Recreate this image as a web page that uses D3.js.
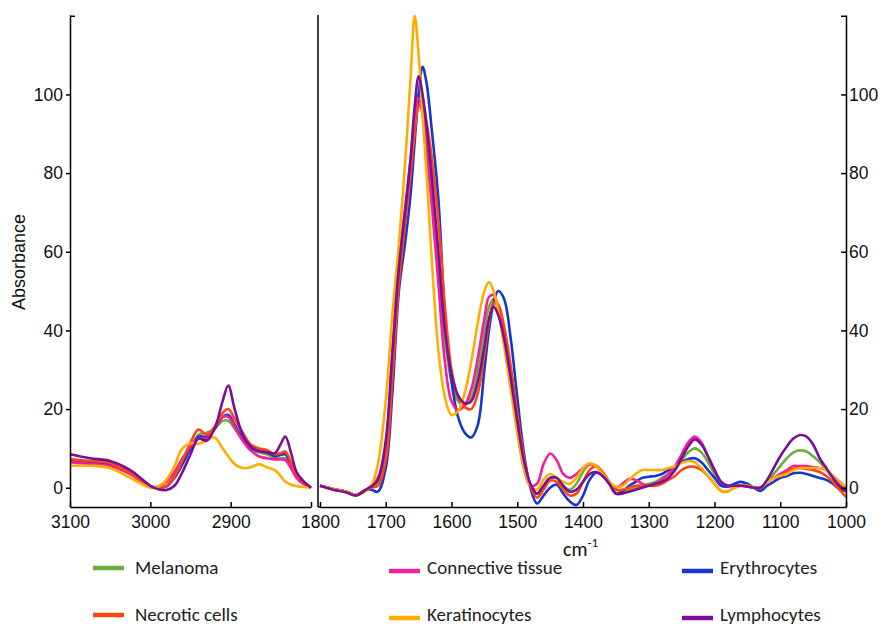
<!DOCTYPE html>
<html>
<head>
<meta charset="utf-8">
<script src="https://cdn.jsdelivr.net/npm/d3@7"></script>
<style>
  body { margin: 0; background: #fff; }
  svg { display: block; }
</style>
</head>
<body>
<div class="chart"></div>
<script>
// wavenumbers (cm-1) of the two panels
var leftWn = [3100, 3075, 3050, 3025, 3000, 2990, 2980, 2970, 2960, 2950, 2940, 2930, 2920, 2910, 2903, 2895,
              2885, 2875, 2865, 2855, 2845, 2838, 2832, 2825, 2818, 2810, 2800];
var rightWn = [1800, 1780, 1760, 1745, 1730, 1722, 1712, 1700, 1690, 1680,
               1670, 1662, 1656, 1650, 1644, 1638, 1630, 1620, 1610, 1600,
               1590, 1580, 1570, 1560, 1550, 1543, 1536, 1529, 1520, 1510,
               1500, 1490, 1480, 1470, 1460, 1450, 1440, 1430, 1420, 1410,
               1400, 1390, 1380, 1370, 1360, 1350, 1340, 1330, 1320, 1310,
               1300, 1290, 1280, 1270, 1260, 1250, 1240, 1230, 1220, 1210,
               1200, 1190, 1180, 1170, 1160, 1150, 1140, 1130, 1120, 1110,
               1100, 1090, 1080, 1070, 1060, 1050, 1040, 1030, 1020, 1010,
               1000];

// absorbance, CH stretch region
var melanomaCH = [6.5, 6, 5.5, 3.5, 0.2, 0, 0.5, 3, 6.5, 10, 13.5, 14, 15, 17, 17, 15, 12, 9.5, 9, 8.5, 7.5, 7.5, 7.5, 5.5, 2.8, 1.3, 0];
var connectiveCH = [6.5, 6, 5.5, 3.5, 0.3, 0.3, 1.5, 4, 7.5, 10.5, 12.5, 12.5, 15, 18, 18, 15.5, 12, 9.5, 8, 7.5, 7.2, 7.2, 7, 5, 2.5, 1, 0];
var erythrocytesCH = [6.8, 6.3, 6, 3.8, 0.3, 0, 0.3, 2.5, 6, 10, 13, 13, 15, 18, 18.5, 16, 12.5, 10, 9.5, 9, 8, 8.3, 8.5, 6, 3, 1.5, 0];
var necroticCH = [7.3, 6.8, 6.3, 3.8, 0.3, 0, 0.4, 2.8, 7, 11.5, 14.8, 13.5, 15.5, 19, 20, 17.5, 14, 11, 10, 9.6, 8.5, 8.8, 9.2, 6.5, 3.5, 1.5, 0];
var keratinocytesCH = [5.6, 5.6, 5, 2.5, 0, 0.3, 2, 5.5, 10, 11.3, 11.2, 12, 12.8, 10, 8, 6, 5, 5.2, 6, 5.2, 4.5, 3, 1.5, 0.8, 0.4, 0.2, 0];
var lymphocytesCH = [8.5, 7.5, 6.8, 4.5, 0.5, -0.4, -0.6, 0.5, 4, 8.5, 12.5, 12, 15, 22, 26, 20, 13.5, 10.5, 9.3, 9, 8.8, 11, 13, 9, 4, 1.8, 0];

// absorbance, fingerprint region
var melanomaFP = [0.5, -0.3, -1, -1.8, -0.5, 0.3, 1.5, 10, 32, 55,
                  70, 82, 93, 100, 97, 89, 77, 58, 38, 27,
                  22, 21, 23, 30, 40, 46, 48, 45, 38, 28,
                  16, 6, 0.5, -1.5, 0.5, 2.5, 2.5, 0.5, -0.5, 1,
                  4, 6, 5.5, 3.5, 1, -0.5, -0.8, -0.5, 0, 0.5,
                  1, 1.5, 2.5, 3.5, 5, 7, 9, 10, 9, 6.5,
                  3.5, 1, 0.5, 0.5, 0.5, 0.3, 0, 0, 1.5, 3.5,
                  5.5, 7.5, 9, 9.5, 9.2, 8, 6.5, 4.5, 2.5, 0.5,
                  -0.5];
var connectiveFP = [0.5, -0.3, -1, -1.8, -0.5, 0.5, 2.5, 11, 34, 57,
                    72, 84, 94, 99, 95, 86, 72, 52, 32, 22,
                    19.8, 21, 25, 33, 43, 48.5, 49, 46, 38, 27,
                    15, 5, 0.5, 1, 6, 8.7, 7, 3.5, 2.5, 3.5,
                    5, 6, 5.5, 3.5, 1, 0, 1, 2.2, 2, 1,
                    0.5, 1, 2, 3.5, 5.5, 8.5, 11.5, 13, 11.5, 8,
                    4.5, 1.5, 0.5, 0.5, 0.5, 0.3, 0, 0, 1.5, 2.5,
                    3.5, 4.5, 5.5, 5.5, 5.5, 5.2, 5, 4.5, 3, 1.5,
                    0];
var erythrocytesFP = [0.5, -0.3, -1, -1.8, -0.5, -0.5, -1, 5, 24, 50,
                      63, 75, 88, 100, 107, 103, 91, 73.5, 44, 27,
                      18, 14, 12.8, 16, 30, 40, 47, 50, 48, 38,
                      23, 9, 0, -4, -2, 0, 0.8, -1.5, -3.5, -4.4,
                      -2, 2, 3.8, 3, 1, -1.5, -1, 0.5, 1.5, 2.5,
                      2.8, 3, 3.5, 4.5, 5.5, 6.5, 7.3, 7.5, 6.5, 4.5,
                      2.5, 0.5, 0.3, 1, 1.5, 1, 0, -0.8, 0.5, 1.5,
                      2.5, 3, 3.7, 3.8, 3.5, 3, 2.5, 2, 1, -0.3,
                      -0.8];
var necroticFP = [0.5, -0.3, -1, -1.8, -0.5, 0, 0.5, 7, 28, 52,
                  68, 80, 90, 97, 97.5, 93, 84, 68, 46, 30,
                  23, 20.5, 20, 24, 34, 42, 47, 46.5, 41, 31,
                  19, 8, 0.5, -2.5, -0.5, 1.8, 1.5, -0.5, -2, -1.5,
                  1.5, 4.5, 5.5, 4, 1.5, -0.5, -0.5, 0, 0.5, 0.5,
                  0.5, 0.5, 1, 2, 3, 4.5, 5.3, 5.3, 4.5, 3,
                  1, -0.8, -1, 0, 0.5, 0.5, 0, 0, 1.5, 2.5,
                  3, 4, 4.8, 5, 4.8, 4.5, 4, 3, 1.5, -0.5,
                  -2.3];
var keratinocytesFP = [0.5, -0.3, -1, -1.8, -0.8, 0.5, 6, 22, 44, 62,
                       84, 105, 120, 110, 95, 80, 58, 35, 23, 18.5,
                       19.5, 24, 32, 42, 50, 52.3, 50, 45, 36, 25,
                       14, 5, 0.5, -0.5, 2, 3.5, 2.5, 1.5, 1, 2.5,
                       5, 6.2, 5.5, 3.5, 1.5, 0.3, 0.5, 2, 3.5, 4.5,
                       4.5, 4.5, 4.5, 5, 5.5, 6.3, 6.8, 6.5, 5, 3,
                       1, -0.8, -1, 0, 0.5, 0.5, 0, 0, 1.5, 2.5,
                       3, 3.5, 4.5, 5, 5, 5, 5, 4.5, 3, 1.5,
                       0.3];
var lymphocytesFP = [0.5, -0.5, -1.2, -2, -0.5, 0.3, 2, 12, 34, 56,
                     71, 84, 97, 104.6, 100, 92, 79, 60, 40, 29,
                     23.5, 21.5, 22, 27, 36, 43, 46, 44, 38, 28,
                     17, 7, 1, -1.5, 0.5, 2.5, 2.5, 0.5, -1, -0.5,
                     1.5, 3.5, 4, 3, 1, -1.5, -1.5, -1, -0.5, 0,
                     0.5, 1, 1.5, 2.5, 4.5, 7.5, 10.5, 12.3, 11, 8,
                     4.5, 1.5, 0.5, 0.5, 0.5, 0.3, 0, 0, 2, 5,
                     8, 10.5, 12.5, 13.4, 13, 11, 7.5, 5, 2.5, 0.5,
                     -1];

var seriesNames = ["Melanoma", "Connective tissue", "Erythrocytes", "Necrotic cells", "Keratinocytes", "Lymphocytes"];
var seriesColors = ["#6cae3c", "#f71e9a", "#1438cc", "#ff4612", "#ffad00", "#7a109a"];
var seriesCH = [melanomaCH, connectiveCH, erythrocytesCH, necroticCH, keratinocytesCH, lymphocytesCH];
var seriesFP = [melanomaFP, connectiveFP, erythrocytesFP, necroticFP, keratinocytesFP, lymphocytesFP];
var drawOrder = [0, 2, 1, 3, 4, 5];

var yTicks = [0, 20, 40, 60, 80, 100, 120];
var leftTicks = [3100, 3000, 2900, 2800];
var rightTicks = [1800, 1700, 1600, 1500, 1400, 1300, 1200, 1100, 1000];

function loadChart(){
  drawSpectra();
}

function drawSpectra(){
  var svg = d3.select(".chart").append("svg")
              .attr("width", 885)
              .attr("height", 626);

  var y = d3.scaleLinear().domain([-4.9, 120.2]).range([507, 15]);
  var xLeft = d3.scaleLinear().domain([3100, 2800]).range([70, 311]);
  var xRight = d3.scaleLinear().domain([1800, 1000]).range([320, 846]);

  var tickFont = "'Liberation Sans', Arial, Helvetica, sans-serif";
  var labelFont = "Carlito, Calibri, Lato, sans-serif";

  // spectra
  function drawPanel(xScale, wn, series){
    var line = d3.line()
                 .x(function (d) { return xScale(d[0]); })
                 .y(function (d) { return y(d[1]); })
                 .curve(d3.curveCatmullRom.alpha(0.5));
    var g = svg.append("g");
    drawOrder.forEach(function (i) {
      var pts = wn.map(function (w, k) { return [w, series[i][k]]; });
      g.append("path")
       .attr("d", line(pts))
       .attr("fill", "none")
       .attr("stroke", seriesColors[i])
       .attr("stroke-width", 2.6)
       .attr("stroke-linejoin", "round");
    });
  }
  drawPanel(xLeft, leftWn, seriesCH);
  drawPanel(xRight, rightWn, seriesFP);

  function styleAxis(g){
    g.selectAll("path, line").attr("stroke", "#000").attr("stroke-width", 1.5);
    g.selectAll("text").attr("fill", "#111").style("font-family", tickFont).style("font-size", "17.5px");
  }
  var fmt = d3.format("d");

  // left y axis
  var yAxisLeft = svg.append("g").attr("transform", "translate(70,0)")
    .call(d3.axisLeft(y).tickValues(yTicks.slice(0, 6)).tickSize(4).tickSizeOuter(0).tickPadding(3).tickFormat(fmt));
  styleAxis(yAxisLeft);
  var yTopLeft = svg.append("g").attr("transform", "translate(70,0)")
    .call(d3.axisRight(y).tickValues([120]).tickSize(5).tickSizeOuter(0).tickFormat(""));
  styleAxis(yTopLeft);
  yTopLeft.select(".domain").remove();

  // right y axis
  var yAxisRight = svg.append("g").attr("transform", "translate(846,0)")
    .call(d3.axisRight(y).tickValues(yTicks).tickSize(-5).tickSizeOuter(0).tickPadding(3)
      .tickFormat(function (d) { return d === 120 ? "" : fmt(d); }));
  styleAxis(yAxisRight);

  // bottom axes
  var xAxisLeft = svg.append("g").attr("transform", "translate(0,507)")
    .call(d3.axisBottom(xLeft).tickValues(leftTicks).tickSize(-5).tickSizeOuter(0).tickPadding(9)
      .tickFormat(function (d) { return d === 2800 ? "" : fmt(d); }));
  styleAxis(xAxisLeft);
  var xAxisRight = svg.append("g").attr("transform", "translate(0,507)")
    .call(d3.axisBottom(xRight).tickValues(rightTicks).tickSize(-5).tickSizeOuter(0).tickPadding(9).tickFormat(fmt));
  styleAxis(xAxisRight);

  // panel divider
  svg.append("line")
     .attr("x1", 318).attr("x2", 318)
     .attr("y1", y.range()[1]).attr("y2", y.range()[0])
     .attr("stroke", "#000").attr("stroke-width", 1.5);
  svg.append("line")
     .attr("x1", 318).attr("x2", 321)
     .attr("y1", 507).attr("y2", 507)
     .attr("stroke", "#000").attr("stroke-width", 1.5);

  // axis titles
  svg.append("text")
     .attr("transform", "translate(25,262) rotate(-90)")
     .attr("text-anchor", "middle")
     .style("font-family", tickFont)
     .style("font-size", "18px")
     .attr("fill", "#111")
     .text("Absorbance");

  var unit = svg.append("text")
     .attr("x", 563).attr("y", 556)
     .style("font-family", labelFont)
     .style("font-size", "20px")
     .attr("fill", "#111");
  unit.append("tspan").text("cm");
  unit.append("tspan").attr("dy", -9).style("font-size", "13px").text("-1");

  // legend
  var legendCols = [93, 389, 682];
  var legendRows = [568, 615];
  var legendItems = seriesNames.map(function (name, i) {
    return { name: name, color: seriesColors[i], col: i % 3, row: Math.floor(i / 3) };
  });
  var items = svg.append("g").selectAll("g")
                 .data(legendItems)
                 .enter()
                 .append("g")
                 .attr("transform", function (d) {
                   return "translate(" + legendCols[d.col] + "," + legendRows[d.row] + ")";
                 });
  items.append("line")
       .attr("x1", 0).attr("x2", 31)
       .attr("y1", function (d) { return d.col === 0 ? 0 : 3; })
       .attr("y2", function (d) { return d.col === 0 ? 0 : 3; })
       .attr("stroke", function (d) { return d.color; })
       .attr("stroke-width", 4.5);
  items.append("text")
       .attr("x", function (d) { return d.col === 0 ? 42 : 38; })
       .attr("y", 6)
       .style("font-family", labelFont)
       .style("font-size", "19px")
       .attr("fill", "#222")
       .text(function (d) { return d.name; });
}

loadChart();
</script>
</body>
</html>
